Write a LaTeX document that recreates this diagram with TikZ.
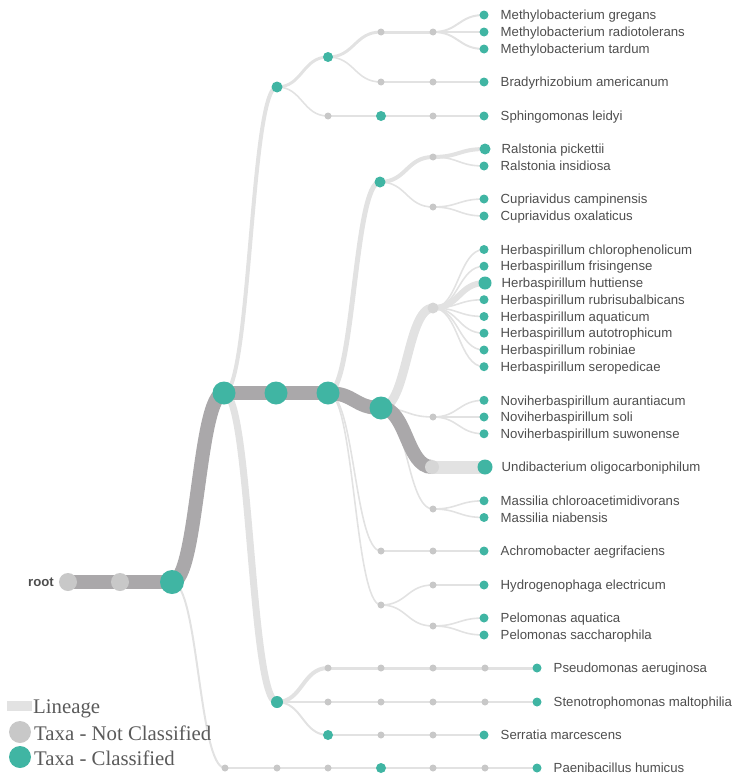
\documentclass[tikz,border=0pt]{standalone}
\usepackage{fontspec}
\setmainfont{Liberation Serif}
\newfontfamily\labelfont{Liberation Sans}
\usetikzlibrary{calc,backgrounds}

\definecolor{taxon}{RGB}{64,181,163}
\definecolor{unclass}{RGB}{200,200,200}
\definecolor{hubgrey}{RGB}{214,214,214}
\definecolor{mainpath}{RGB}{170,168,170}
\definecolor{sidepath}{RGB}{226,226,226}
\definecolor{txtgrey}{RGB}{78,78,78}
\definecolor{legendgrey}{RGB}{90,90,90}

\tikzset{
  cls/.style={circle,fill=taxon,draw=none,inner sep=0pt,minimum size=#1},
  cls/.default=9pt,
  ncl/.style={circle,fill=unclass,draw=none,inner sep=0pt,minimum size=#1},
  ncl/.default=7pt,
  twig/.style={draw=sidepath,line width=#1},
  twig/.default=1.6pt,
  trunk/.style={draw=mainpath,line width=14pt},
  lbl/.style={anchor=base west,inner sep=0pt,text=txtgrey,
    font=\labelfont\fontsize{13.2}{15}\selectfont},
  legendtxt/.style={anchor=base west,inner sep=0pt,text=legendgrey,
    font=\fontsize{20.8}{23}\selectfont},
}

% curved link between two taxa (horizontal S-shape)
\newcommand\lineage[3][twig]{%
  \draw[#1] let \p1=(#2.center), \p2=(#3.center) in
    (\p1) .. controls ({(\x1+\x2)/2},\y1) and ({(\x1+\x2)/2},\y2) .. (\p2);}

% classified leaf with its species name
\newcommand\taxonleaf[5][9pt]{%
  \node[cls=#1] (#2) at (#3,#4) {};
  \node[lbl] (#2-t) at ($(#2.center)+(16.5,4.7)$) {#5};}

\begin{document}
\begin{tikzpicture}[x=1pt,y=-1pt]
\useasboundingbox (0,0) rectangle (733,779);

% ---- main lineage ----
\node[ncl=18pt] (r0) at (68,582) {};
\node[ncl=18pt] (r1) at (120,582) {};
\node[cls=24pt] (r2) at (172,582) {};
\node[cls=23pt] (a) at (224,393) {};
\node[cls=23pt] (b) at (276,393) {};
\node[cls=23pt] (c) at (328,393) {};
\node[cls=23pt] (d) at (381,408) {};
\node[ncl=14pt,fill=hubgrey] (e) at (432,467) {};
\taxonleaf[15pt]{und}{485}{467}{Undibacterium oligocarboniphilum}
\node[anchor=base east,inner sep=0pt,text=txtgrey,
  font=\labelfont\bfseries\fontsize{13.2}{15}\selectfont] (rootlbl)
  at ($(r0.center)+(-14,4.7)$) {root};

% ---- upper branch ----
\node[cls=11pt] (t1) at (277,87) {};
\node[cls=10pt] (t2) at (328,57) {};
\node[ncl] (t3) at (381,32) {};
\node[ncl] (t4) at (433,32) {};
\taxonleaf{mgr}{484}{15}{Methylobacterium gregans}
\taxonleaf{mra}{484}{32}{Methylobacterium radiotolerans}
\taxonleaf{mta}{484}{49}{Methylobacterium tardum}
\node[ncl] (t5) at (381,82) {};
\node[ncl] (t6) at (433,82) {};
\taxonleaf{bam}{484}{82}{Bradyrhizobium americanum}
\node[ncl] (t7) at (328,116) {};
\node[cls=10pt] (t8) at (381,116) {};
\node[ncl] (t9) at (433,116) {};
\taxonleaf{sle}{484}{116}{Sphingomonas leidyi}

% ---- Burkholderiales ----
\node[cls=11pt] (u1) at (380,182) {};
\node[ncl] (u2) at (433,157) {};
\taxonleaf[11pt]{rpi}{485}{149}{Ralstonia pickettii}
\taxonleaf{rin}{484}{166}{Ralstonia insidiosa}
\node[ncl] (u3) at (433,207) {};
\taxonleaf{cca}{484}{199}{Cupriavidus campinensis}
\taxonleaf{cox}{484}{216}{Cupriavidus oxalaticus}

\node[ncl=11pt,fill=hubgrey] (h) at (433,308) {};
\taxonleaf{hch}{484}{249.5}{Herbaspirillum chlorophenolicum}
\taxonleaf{hfr}{484}{266.2}{Herbaspirillum frisingense}
\taxonleaf[13pt]{hhu}{485}{283}{Herbaspirillum huttiense}
\taxonleaf{hru}{484}{299.7}{Herbaspirillum rubrisubalbicans}
\taxonleaf{haq}{484}{316.5}{Herbaspirillum aquaticum}
\taxonleaf{hau}{484}{333.2}{Herbaspirillum autotrophicum}
\taxonleaf{hro}{484}{350}{Herbaspirillum robiniae}
\taxonleaf{hse}{484}{366.7}{Herbaspirillum seropedicae}

\node[ncl] (n) at (433,417) {};
\taxonleaf{nau}{484}{400.3}{Noviherbaspirillum aurantiacum}
\taxonleaf{nso}{484}{417}{Noviherbaspirillum soli}
\taxonleaf{nsu}{484}{433.8}{Noviherbaspirillum suwonense}

\node[ncl] (m) at (433,509) {};
\taxonleaf{mch}{484}{500.8}{Massilia chloroacetimidivorans}
\taxonleaf{mni}{484}{517.5}{Massilia niabensis}

\node[ncl] (ac1) at (381,551) {};
\node[ncl] (ac2) at (433,551) {};
\taxonleaf{ach}{484}{551}{Achromobacter aegrifaciens}

\node[ncl] (p1) at (381,605) {};
\node[ncl] (p2) at (433,585) {};
\taxonleaf{hyd}{484}{585}{Hydrogenophaga electricum}
\node[ncl] (p3) at (433,626) {};
\taxonleaf{paq}{484}{618}{Pelomonas aquatica}
\taxonleaf{psa}{484}{635}{Pelomonas saccharophila}

% ---- lower branch ----
\node[cls=12pt] (s1) at (277,702) {};
\node[ncl] (s2) at (328,668) {};
\node[ncl] (s2b) at (381,668) {};
\node[ncl] (s2c) at (433,668) {};
\node[ncl] (s2d) at (485,668) {};
\taxonleaf{pse}{537}{668}{Pseudomonas aeruginosa}
\node[ncl] (s3) at (328,702) {};
\node[ncl] (s3b) at (381,702) {};
\node[ncl] (s3c) at (433,702) {};
\node[ncl] (s3d) at (485,702) {};
\taxonleaf{ste}{537}{702}{Stenotrophomonas maltophilia}
\node[cls=10pt] (s4) at (328,735) {};
\node[ncl] (s4b) at (381,735) {};
\node[ncl] (s4c) at (433,735) {};
\taxonleaf{ser}{484}{735}{Serratia marcescens}

\node[ncl] (q1) at (225,768) {};
\node[ncl] (q2) at (277,768) {};
\node[ncl] (q3) at (328,768) {};
\node[cls=10pt] (q4) at (381,768) {};
\node[ncl] (q5) at (433,768) {};
\node[ncl] (q6) at (485,768) {};
\taxonleaf{pae}{537}{768}{Paenibacillus humicus}

% ---- links ----
\begin{scope}[on background layer]
  % upper branch
  \lineage[twig=4pt]{a}{t1}
  \lineage[twig=3pt]{t1}{t2}
  \lineage[twig=3pt]{t2}{t3}
  \lineage[twig=3pt]{t3}{t4}
  \lineage[twig=2pt]{t4}{mgr}
  \lineage[twig=2pt]{t4}{mra}
  \lineage[twig=2pt]{t4}{mta}
  \lineage{t2}{t5}
  \lineage{t5}{t6}
  \lineage{t6}{bam}
  \lineage{t1}{t7}
  \lineage{t7}{t8}
  \lineage{t8}{t9}
  \lineage{t9}{sle}
  % Ralstonia / Cupriavidus
  \lineage[twig=5pt]{c}{u1}
  \lineage[twig=4pt]{u1}{u2}
  \lineage[twig=4pt]{u2}{rpi}
  \lineage{u2}{rin}
  \lineage{u1}{u3}
  \lineage{u3}{cca}
  \lineage{u3}{cox}
  % Herbaspirillum
  \lineage[twig=9pt]{d}{h}
  \lineage{h}{hch}
  \lineage{h}{hfr}
  \lineage[twig=6pt]{h}{hhu}
  \lineage{h}{hru}
  \lineage{h}{haq}
  \lineage{h}{hau}
  \lineage{h}{hro}
  \lineage{h}{hse}
  % Noviherbaspirillum, Massilia
  \lineage{d}{n}
  \lineage{n}{nau}
  \lineage{n}{nso}
  \lineage{n}{nsu}
  \lineage{d}{m}
  \lineage{m}{mch}
  \lineage{m}{mni}
  % Achromobacter, Hydrogenophaga, Pelomonas
  \lineage{c}{ac1}
  \lineage{ac1}{ac2}
  \lineage{ac2}{ach}
  \lineage{c}{p1}
  \lineage{p1}{p2}
  \lineage{p2}{hyd}
  \lineage{p1}{p3}
  \lineage{p3}{paq}
  \lineage{p3}{psa}
  % lower branch
  \lineage[twig=7pt]{a}{s1}
  \lineage[twig=4pt]{s1}{s2}
  \lineage[twig=3pt]{s2}{s2b}
  \lineage[twig=3pt]{s2b}{s2c}
  \lineage[twig=3pt]{s2c}{s2d}
  \lineage[twig=3pt]{s2d}{pse}
  \lineage{s1}{s3}
  \lineage{s3}{s3b}
  \lineage{s3b}{s3c}
  \lineage{s3c}{s3d}
  \lineage{s3d}{ste}
  \lineage[twig=2pt]{s1}{s4}
  \lineage{s4}{s4b}
  \lineage{s4b}{s4c}
  \lineage{s4c}{ser}
  \lineage[twig=2pt]{r2}{q1}
  \lineage{q1}{q2}
  \lineage{q2}{q3}
  \lineage{q3}{q4}
  \lineage{q4}{q5}
  \lineage{q5}{q6}
  \lineage{q6}{pae}
  % highlighted lineage
  \lineage[twig=13pt]{e}{und}
  \lineage[trunk]{r0}{r1}
  \lineage[trunk]{r1}{r2}
  \lineage[trunk]{r2}{a}
  \lineage[trunk]{a}{b}
  \lineage[trunk]{b}{c}
  \lineage[trunk]{c}{d}
  \lineage[trunk]{d}{e}
\end{scope}

% ---- legend ----
\node[fill=sidepath,inner sep=0pt,minimum width=25pt,minimum height=10pt]
  (legline) at (19.5,706) {};
\node[legendtxt] (leglinet) at (33,713) {Lineage};
\node[ncl=22pt] (legncl) at (20,732) {};
\node[legendtxt] (legnclt) at (34,740) {Taxa - Not Classified};
\node[cls=22pt] (legcls) at (20,757) {};
\node[legendtxt] (legclst) at (34,765) {Taxa - Classified};
\end{tikzpicture}
\end{document}
